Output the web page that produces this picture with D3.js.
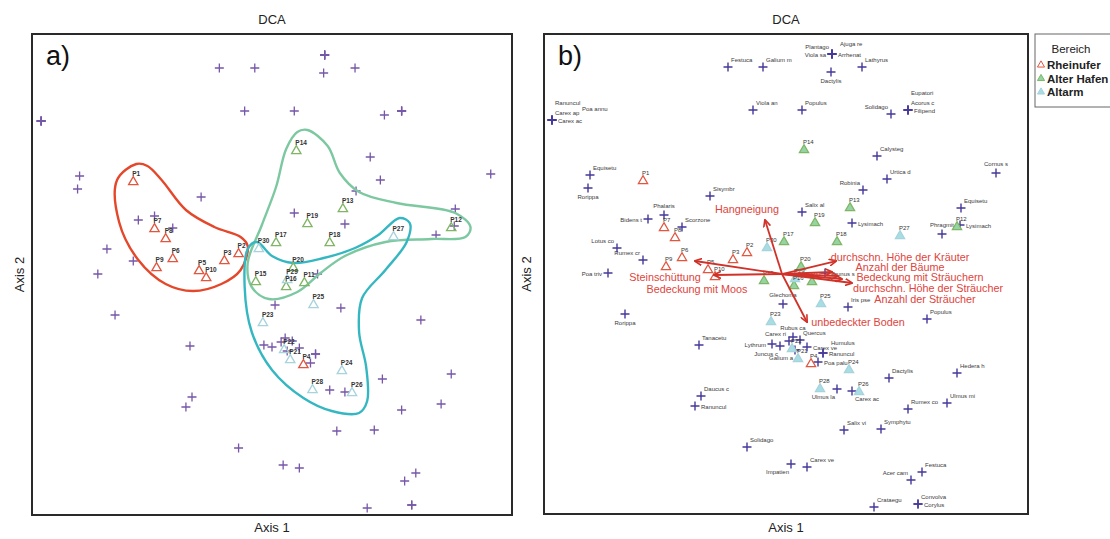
<!DOCTYPE html>
<html>
<head>
<meta charset="utf-8">
<script src="https://cdn.jsdelivr.net/npm/d3@7"></script>
<style>
  body { margin: 0; background: #fff; }
  svg text { font-family: Arial, "Liberation Sans", sans-serif; }
</style>
</head>
<body>
<div id="chart"></div>
<script>
// DCA site scores (axis 1, axis 2)
var groups = ["Rheinufer", "Alter Hafen", "Altarm"];
var siteNames = ["P1","P2","P3","P4","P5","P6","P7","P8","P9","P10",
                 "P11","P12","P13","P14","P15","P16","P17","P18","P19","P20",
                 "P21","P22","P23","P24","P25","P26","P27","P28","P29","P30"];
var siteGroup = [0,0,0,0,0,0,0,0,0,0, 1,1,1,1,1,1,1,1,1,1, 2,2,2,2,2,2,2,2,2,2];
var siteX = [0.99,2.03,1.89,2.67,1.64,1.38,1.20,1.31,1.22,1.71,
             2.68,4.13,3.06,2.60,2.20,2.50,2.40,2.93,2.71,2.57,
             2.54,2.48,2.27,3.05,2.77,3.15,3.56,2.76,2.51,2.23];
var siteY = [3.33,2.61,2.54,1.50,2.44,2.56,2.86,2.76,2.47,2.37,
             2.32,2.87,3.06,3.64,2.33,2.28,2.72,2.72,2.91,2.47,
             1.55,1.65,1.92,1.44,2.10,1.22,2.78,1.25,2.35,2.66];

// species scores with abbreviated names and label side
var speciesNames = ["Festuca","Galium m","Plantago","Ajuga re","Arrhenat","Viola sa","Dactylis","Lathyrus",
  "Ranuncul","Carex ap","Poa annu","Carex ac","Viola an","Populus","Solidago","Eupatori","Acorus c","Filipend",
  "Calysteg","Cornus s","Urtica d","Robinia","Salix al","Lysimach","Equisetu","Lysimach","Phragmit",
  "Equisetu","Rorippa","Sisymbr","Bidens t","Phalaris","Scorzone","Lotus co","Rumex cr","Poa triv","Rorippa",
  "Prunus s","Glechoma","Iris pse","Populus","Rubus ca","Quercus","Carex ri","Lythrum","Juncus c","Carex ve",
  "Humulus","Ranuncul","Galium a","Poa palu","Tanacetu","Daucus c","Ranuncul","Ulmus la","Carex ac","Dactylis",
  "Hedera h","Rumex co","Ulmus mi","Salix vi","Symphytu","Solidago","Impatien","Carex ve","Festuca","Acer cam",
  "Crataegu","Convolva","Corylus"];
var speciesX = [1.84,2.19,2.88,2.88,2.88,2.88,2.87,3.18,
  0.08,0.08,0.08,0.08,2.09,2.58,3.47,3.64,3.64,3.64,
  3.33,4.52,3.43,3.19,2.58,3.08,4.17,4.16,3.98,
  0.46,0.44,1.66,1.04,1.20,1.38,0.73,0.99,0.64,0.81,
  2.81,2.39,3.04,3.83,2.49,2.56,2.45,2.28,2.36,2.63,
  2.79,2.79,2.51,2.74,1.55,1.57,1.51,2.93,3.08,3.45,
  4.13,3.64,4.03,3.00,3.37,2.03,2.47,2.63,3.78,3.67,
  3.30,3.74,3.74];
var speciesY = [4.47,4.47,4.60,4.60,4.60,4.60,4.42,4.47,
  3.94,3.94,3.94,3.94,4.04,4.04,4.00,4.04,4.04,4.04,
  3.58,3.41,3.35,3.24,3.02,2.91,3.06,2.89,2.80,
  3.39,3.26,3.18,2.95,2.99,2.87,2.66,2.54,2.41,2.00,
  2.41,2.10,2.07,1.95,1.77,1.74,1.73,1.70,1.68,1.67,
  1.61,1.61,1.64,1.52,1.69,1.18,1.08,1.25,1.23,1.36,
  1.41,1.05,1.11,0.84,0.85,0.67,0.50,0.47,0.42,0.34,
  0.07,0.10,0.10];
var speciesPos = ["tr","tr","tl","trr","r","l","b","tr",
  "tt","tr","tr1b","r","tr","tr","tl","tt","tr","r",
  "tr","t","tr","tl","tr","r","tr","r","t",
  "tr","b","tr","l","t","tr","tl","tl","l","b",
  "r","t","tr","tr","t","tr","tl","l","bl","r",
  "trr","r","bl","r","tr","tr","r","bl","br","tr",
  "tr","tr","tr","tr","tr","tr","bl","tr","tr","tl",
  "tr","tr","r"];

// hand-drawn group outlines in panel a
var hullRheinufer = [[1.02,3.51],[0.83,3.35],[0.85,2.93],[1.04,2.55],[1.31,2.31],[1.58,2.24],[1.86,2.31],
  [2.05,2.45],[2.12,2.69],[2.05,2.78],[1.79,2.88],[1.51,3.05],[1.27,3.35],[1.13,3.49]];
var hullAlterHafen = [[2.71,3.85],[2.91,3.69],[3.03,3.42],[3.22,3.23],[3.59,3.12],[4.17,3.02],[4.32,2.88],
  [4.27,2.78],[3.93,2.76],[3.48,2.73],[3.08,2.59],[2.84,2.42],[2.61,2.23],[2.33,2.16],[2.16,2.28],
  [2.12,2.52],[2.26,2.90],[2.40,3.28],[2.50,3.66],[2.61,3.83]];
var hullAltarm = [[2.21,2.73],[2.36,2.59],[2.57,2.52],[2.87,2.57],[3.18,2.67],[3.41,2.80],[3.62,2.97],
  [3.72,2.92],[3.69,2.73],[3.48,2.45],[3.25,2.17],[3.22,1.83],[3.29,1.48],[3.30,1.14],[3.22,1.02],
  [2.95,1.04],[2.67,1.17],[2.36,1.45],[2.16,1.83],[2.09,2.28],[2.12,2.66]];

// environmental vectors (envfit) in panel b
var envOrigin = [2.38, 2.40];
var envNames = ["Hangneigung","Steinschüttung","Bedeckung mit Moos","unbedeckter Boden",
  "durchschn. Höhe der Kräuter","Anzahl der Bäume","Bedeckung mit Sträuchern",
  "durchschn. Höhe der Sträucher","Anzahl der Sträucher"];
var envX = [2.21,1.51,1.70,2.63,2.92,2.88,2.94,3.08,2.98];
var envY = [2.94,2.53,2.39,1.92,2.53,2.42,2.38,2.31,2.35];
var envLabelX = [2.03,1.21,1.53,3.14,3.56,3.56,3.76,3.84,3.81];
var envLabelY = [3.05,2.37,2.25,1.92,2.57,2.47,2.37,2.26,2.15];

var groupStroke = ["#e2553f", "#7fb564", "#a6d3dc"];
var groupFillB = ["none", "#93d4a2", "#a9dde4"];
var hullColors = ["#e4472a", "#7cc8a0", "#35b7c2"];

var width = 1110, height = 539;
var svg = d3.select("#chart").append("svg")
  .attr("width", width).attr("height", height);

svg.append("defs").append("marker")
  .attr("id", "head")
  .attr("viewBox", "0 0 8 8")
  .attr("refX", 7).attr("refY", 4)
  .attr("markerWidth", 8).attr("markerHeight", 8)
  .attr("markerUnits", "userSpaceOnUse")
  .attr("orient", "auto")
  .append("path")
  .attr("d", "M0,0.5L7.5,4L0,7.5")
  .attr("fill", "none")
  .attr("stroke", "#d0322a")
  .attr("stroke-width", 1.6);

var labelOffsets = {
  tr: [3, -5, "start"], tl: [-3, -5, "end"], t: [0, -7, "middle"], b: [0, 11, "middle"],
  r: [6, 2.5, "start"], l: [-6, 2.5, "end"], bl: [-2, 10, "end"], br: [3, 10, "start"],
  trr: [8, -8, "start"], tt: [3, -15, "start"], tr1b: [30, -9, "start"]
};

var crossPath = "M-4.5,0H4.5M0,-4.5V4.5";
var tri = d3.symbol().type(d3.symbolTriangle).size(38);

function panel(cfg) {
  var x = d3.scaleLinear().domain(cfg.xDomain).range([cfg.left, cfg.right]);
  var y = d3.scaleLinear().domain(cfg.yDomain).range([cfg.bottom, cfg.top]);
  var g = svg.append("g");
  var cx = (cfg.left + cfg.right) / 2;

  g.append("text").attr("x", cx).attr("y", 24)
    .attr("text-anchor", "middle").attr("font-size", 13).attr("fill", "#222").text("DCA");
  g.append("text").attr("x", cx).attr("y", 532)
    .attr("text-anchor", "middle").attr("font-size", 13).attr("fill", "#222").text("Axis 1");
  g.append("text")
    .attr("transform", "translate(" + cfg.ylabX + "," + ((cfg.top + cfg.bottom) / 2) + ") rotate(-90)")
    .attr("text-anchor", "middle").attr("font-size", 13).attr("fill", "#222").text("Axis 2");

  g.append("rect").attr("x", cfg.left).attr("y", cfg.top)
    .attr("width", cfg.right - cfg.left).attr("height", cfg.bottom - cfg.top)
    .attr("fill", "#fff").attr("stroke", "#2a2a2a").attr("stroke-width", 2);

  g.append("text").attr("x", cfg.left + 14).attr("y", cfg.top + 31)
    .attr("font-size", 27).attr("fill", "#111").text(cfg.tag);

  return { g: g, x: x, y: y };
}

// ---------- panel a ----------
var pa = panel({ xDomain: [-0.01, 4.73], yDomain: [0, 4.81], left: 32, right: 512, top: 34, bottom: 515,
  ylabX: 24, tag: "a)" });

pa.g.selectAll(".sp").data(speciesX).enter().append("path")
  .attr("transform", function (d, i) { return "translate(" + pa.x(d) + "," + pa.y(speciesY[i]) + ")"; })
  .attr("d", crossPath).attr("stroke", "#7657a8").attr("stroke-width", 1.3);

var hull = d3.line()
  .x(function (d) { return pa.x(d[0]); })
  .y(function (d) { return pa.y(d[1]); })
  .curve(d3.curveCatmullRomClosed.alpha(0.5));

[hullRheinufer, hullAlterHafen, hullAltarm].forEach(function (h, i) {
  pa.g.append("path").attr("d", hull(h)).attr("fill", "none")
    .attr("stroke", hullColors[i]).attr("stroke-width", 2.4);
});

pa.g.selectAll(".site").data(siteNames).enter().append("path")
  .attr("transform", function (d, i) { return "translate(" + pa.x(siteX[i]) + "," + pa.y(siteY[i]) + ")"; })
  .attr("d", tri).attr("fill", "none")
  .attr("stroke", function (d, i) { return groupStroke[siteGroup[i]]; }).attr("stroke-width", 1.3);

pa.g.selectAll(".slab").data(siteNames).enter().append("text")
  .attr("x", function (d, i) { return pa.x(siteX[i]) - 1; })
  .attr("y", function (d, i) { return pa.y(siteY[i]) - 6; })
  .attr("font-size", 6.5).attr("font-weight", "bold").attr("fill", "#333").text(function (d) { return d; });

// ---------- panel b ----------
var pb = panel({ xDomain: [0, 4.84], yDomain: [0, 4.80], left: 544, right: 1028, top: 34, bottom: 514,
  ylabX: 531, tag: "b)" });

pb.g.selectAll(".sp").data(speciesX).enter().append("path")
  .attr("transform", function (d, i) { return "translate(" + pb.x(d) + "," + pb.y(speciesY[i]) + ")"; })
  .attr("d", crossPath).attr("stroke", "#45399a").attr("stroke-width", 1.4);

pb.g.selectAll(".splab").data(speciesNames).enter().append("text")
  .attr("x", function (d, i) { return pb.x(speciesX[i]) + labelOffsets[speciesPos[i]][0]; })
  .attr("y", function (d, i) { return pb.y(speciesY[i]) + labelOffsets[speciesPos[i]][1]; })
  .attr("text-anchor", function (d, i) { return labelOffsets[speciesPos[i]][2]; })
  .attr("font-size", 6).attr("fill", "#3a3a3a").text(function (d) { return d; });

pb.g.selectAll(".site").data(siteNames).enter().append("path")
  .attr("transform", function (d, i) { return "translate(" + pb.x(siteX[i]) + "," + pb.y(siteY[i]) + ")"; })
  .attr("d", tri)
  .attr("fill", function (d, i) { return groupFillB[siteGroup[i]]; })
  .attr("stroke", function (d, i) { return groupStroke[siteGroup[i]]; }).attr("stroke-width", 1.2);

pb.g.selectAll(".slab").data(siteNames).enter().append("text")
  .attr("x", function (d, i) { return pb.x(siteX[i]) - 1; })
  .attr("y", function (d, i) { return pb.y(siteY[i]) - 6; })
  .attr("font-size", 6).attr("fill", "#333").text(function (d) { return d; });

pb.g.selectAll(".env").data(envNames).enter().append("line")
  .attr("x1", pb.x(envOrigin[0])).attr("y1", pb.y(envOrigin[1]))
  .attr("x2", function (d, i) { return pb.x(envX[i]); })
  .attr("y2", function (d, i) { return pb.y(envY[i]); })
  .attr("stroke", "#d0322a").attr("stroke-width", 1.8)
  .attr("marker-end", "url(#head)");

pb.g.selectAll(".envlab").data(envNames).enter().append("text")
  .attr("x", function (d, i) { return pb.x(envLabelX[i]); })
  .attr("y", function (d, i) { return pb.y(envLabelY[i]) + 4; })
  .attr("text-anchor", "middle").attr("font-size", 10.8).attr("fill", "#e0443c")
  .text(function (d) { return d; });

// ---------- legend ----------
var lg = svg.append("g").attr("transform", "translate(1035,34)");
lg.append("rect").attr("width", 90).attr("height", 73)
  .attr("fill", "#fff").attr("stroke", "#666").attr("stroke-width", 1);
lg.append("text").attr("x", 36).attr("y", 19).attr("text-anchor", "middle")
  .attr("font-size", 11.5).attr("fill", "#222").text("Bereich");
groups.forEach(function (name, i) {
  var yy = 35 + i * 13.5;
  lg.append("path").attr("transform", "translate(6," + (yy - 4) + ")")
    .attr("d", d3.symbol().type(d3.symbolTriangle).size(22))
    .attr("fill", i === 0 ? "none" : groupFillB[i]).attr("stroke", groupStroke[i]).attr("stroke-width", 1);
  lg.append("text").attr("x", 12).attr("y", yy)
    .attr("font-size", 11.5).attr("font-weight", "bold").attr("fill", "#222").text(name);
});
</script>
</body>
</html>
